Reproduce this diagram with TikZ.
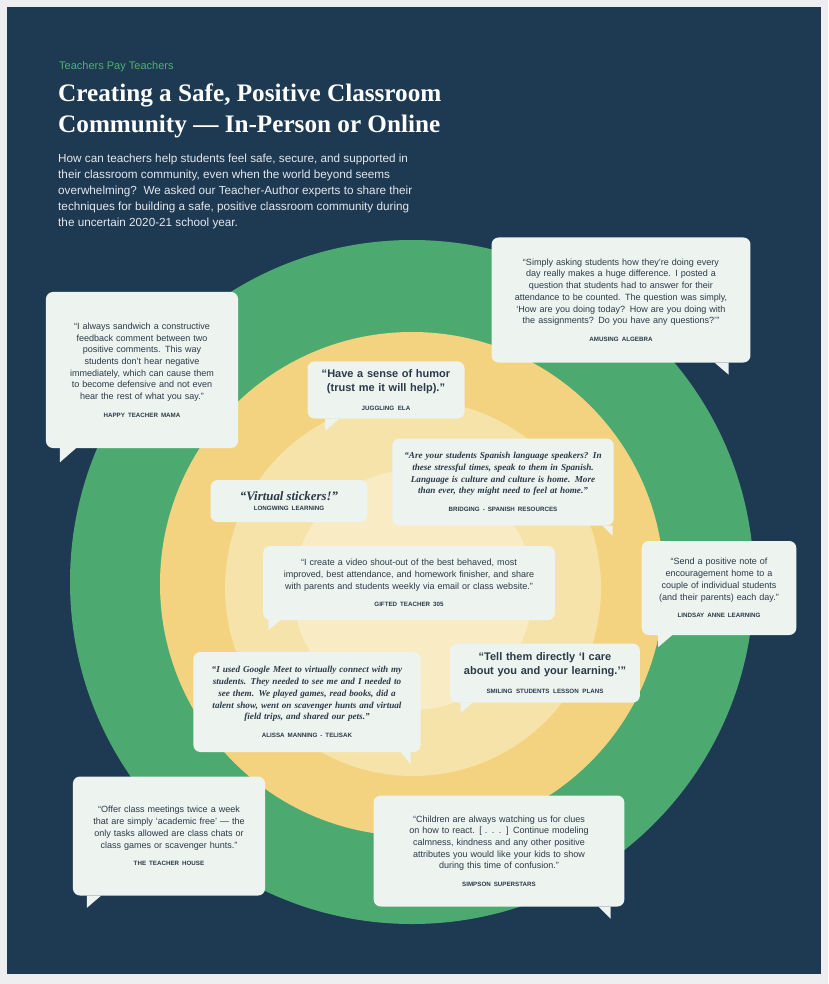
\documentclass[tikz,border=0pt]{standalone}
\usepackage{fontspec}
\setmainfont{Liberation Sans}
\newfontfamily\titlefont[Ligatures=TeX]{Liberation Serif}
\usetikzlibrary{positioning}
\definecolor{navy}{HTML}{1E3A53}
\definecolor{pagegray}{HTML}{EEEEF0}
\definecolor{ringgreen}{HTML}{4CAA70}
\definecolor{ringyellow}{HTML}{F3D37F}
\definecolor{ringpale}{HTML}{F6E3AA}
\definecolor{bubblefill}{HTML}{EDF3EF}
\definecolor{inktext}{HTML}{2B3A48}
\definecolor{brandgreen}{HTML}{4FB070}

\tikzset{
  bubble/.style={fill=bubblefill, rounded corners=6pt, inner sep=7pt, align=center,
    text=inktext, font=\fontsize{7.7}{10}\selectfont},
  tail/.style={fill=bubblefill}
}
\newcommand{\by}[1]{\\[5pt]{\fontsize{5.3}{6}\selectfont\bfseries #1}}
\newcommand{\serifq}{\titlefont\itshape\bfseries}

\begin{document}
\begin{tikzpicture}[x=0.03cm,y=-0.03cm]
  % page and panel
  \fill[pagegray] (0,0) rectangle (828,984);
  \fill[navy] (7,7) rectangle (821,974);
  \useasboundingbox (0,0) rectangle (828,984);

  % header
  \node[anchor=west, text=brandgreen, font=\fontsize{9.4}{11}\selectfont] (brand) at (55,67) {Teachers Pay Teachers};
  \node[anchor=north west, text=white, align=left, inner sep=0pt,
        font=\titlefont\bfseries\fontsize{21.5}{26}\selectfont] (title) at (58,84)
        {Creating a Safe, Positive Classroom\\Community --- In-Person or Online};
  \node[anchor=north west, text=white!88!navy, align=left, inner sep=0pt,
        font=\fontsize{10}{13.6}\selectfont] (intro) at (58,154)
        {How can teachers help students feel safe, secure, and supported in\\
         their classroom community, even when the world beyond seems\\
         overwhelming?\ \ We asked our Teacher-Author experts to share their\\
         techniques for building a safe, positive classroom community during\\
         the uncertain 2020-21 school year.};

  % rings
  \fill[ringgreen] (412,582) circle (342);
  \fill[ringyellow] (412,584) circle (252);
  \fill[ringpale] (413,588) circle (188);
  \fill[ringpale!70!white] (413,590) circle (120);

  % bubbles
  \node[bubble, text width=150, minimum height=4.68cm] (mama) at (142,370)
    {``I always sandwich a constructive\\feedback comment between two\\positive comments. This way\\students don't hear negative\\immediately, which can cause them\\to become defensive and not even\\hear the rest of what you say.''\by{HAPPY TEACHER MAMA}};
  \fill[tail] ([xshift=-70]mama.south) -- ++(0,14) -- ++(16,-14) -- cycle;

  \node[bubble, text width=207, minimum height=3.75cm] (algebra) at (621,300)
    {``Simply asking students how they're doing every\\day really makes a huge difference. I posted a\\question that students had to answer for their\\attendance to be counted. The question was simply,\\`How are you doing today? How are you doing with\\the assignments? Do you have any questions?'{}''\by{AMUSING ALGEBRA}};
  \fill[tail] ([xshift=80]algebra.south) -- ++(14,12) -- ++(0,-12) -- cycle;

  \node[bubble, text width=120, minimum height=1.62cm, font=\fontsize{9.4}{11.5}\selectfont\bfseries] (humor) at (386,390)
    {``Have a sense of humor\\(trust me it will help).''\by{JUGGLING ELA}};
  \fill[tail] ([xshift=-52]humor.south) -- ++(0,12) -- ++(14,-12) -- cycle;

  \node[bubble, text width=175, minimum height=2.61cm] (spanish) at (503,482)
    {{\serifq\fontsize{7.8}{10}\selectfont ``Are your students Spanish language speakers? In\\these stressful times, speak to them in Spanish.\\Language is culture and culture is home. More\\than ever, they might need to feel at home.''}\by{BRIDGING - SPANISH RESOURCES}};
  \fill[tail] ([xshift=85]spanish.south) -- ++(10,10) -- ++(0,-10) -- cycle;

  \node[bubble, text width=120, minimum height=1.26cm] (stickers) at (289,501)
    {{\serifq\fontsize{11}{13}\selectfont ``Virtual stickers!''}\\[-2pt]{\fontsize{5.3}{6}\selectfont\bfseries LONGWING LEARNING}};

  \node[bubble, text width=235, minimum height=2.22cm] (gifted) at (409,583)
    {``I create a video shout-out of the best behaved, most\\improved, best attendance, and homework finisher, and share\\with parents and students weekly via email or class website.''\by{GIFTED TEACHER 305}};
  \fill[tail] ([xshift=-120]gifted.south) -- ++(0,10) -- ++(12,-10) -- cycle;

  \node[bubble, text width=118, minimum height=2.82cm] (lindsay) at (719,588)
    {``Send a positive note of\\encouragement home to a\\couple of individual students\\(and their parents) each day.''\by{LINDSAY ANNE LEARNING}};
  \fill[tail] ([xshift=-52]lindsay.south) -- ++(0,12) -- ++(14,-12) -- cycle;

  \node[bubble, text width=148, minimum height=1.77cm, font=\fontsize{9.4}{11.5}\selectfont\bfseries] (direct) at (545,673)
    {``Tell them directly `I care\\about you and your learning.'{}''\by{SMILING STUDENTS LESSON PLANS}};
  \fill[tail] ([xshift=-72]direct.south) -- ++(0,10) -- ++(12,-10) -- cycle;

  \node[bubble, text width=180, minimum height=3.0cm] (telisak) at (307,702)
    {{\serifq\fontsize{7.8}{10}\selectfont ``I used Google Meet to virtually connect with my\\students. They needed to see me and I needed to\\see them. We played games, read books, did a\\talent show, went on scavenger hunts and virtual\\field trips, and shared our pets.''}\by{ALISSA MANNING - TELISAK}};
  \fill[tail] ([xshift=80]telisak.south) -- ++(10,12) -- ++(0,-12) -- cycle;

  \node[bubble, text width=150, minimum height=3.57cm] (house) at (169,836)
    {``Offer class meetings twice a week\\that are simply `academic free' --- the\\only tasks allowed are class chats or\\class games or scavenger hunts.''\by{THE TEACHER HOUSE}};
  \fill[tail] ([xshift=-70]house.south) -- ++(0,12) -- ++(14,-12) -- cycle;

  \node[bubble, text width=200, minimum height=3.33cm] (simpson) at (499,851)
    {``Children are always watching us for clues\\on how to react. [ . . . ] Continue modeling\\calmness, kindness and any other positive\\attributes you would like your kids to show\\during this time of confusion.''\by{SIMPSON SUPERSTARS}};
  \fill[tail] ([xshift=85]simpson.south) -- ++(12,12) -- ++(0,-12) -- cycle;
\end{tikzpicture}
\end{document}
